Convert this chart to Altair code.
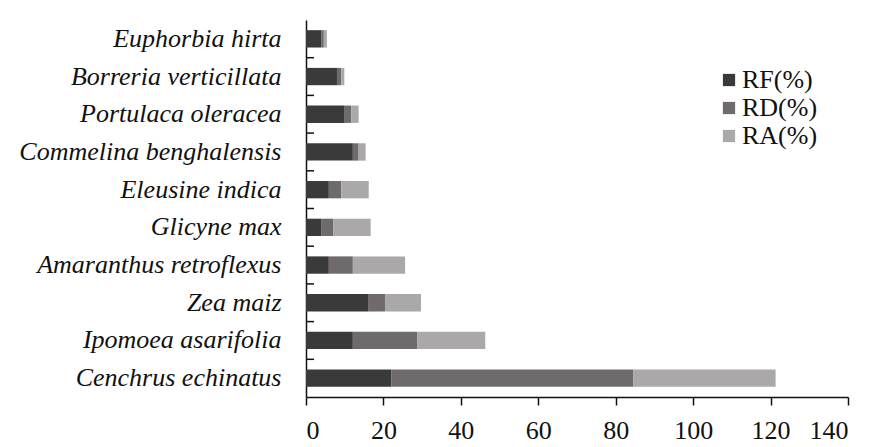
import altair as alt
import pandas as pd

species = ["Euphorbia hirta", "Borreria verticillata", "Portulaca oleracea",
           "Commelina benghalensis", "Eleusine indica", "Glicyne max",
           "Amaranthus retroflexus", "Zea maiz", "Ipomoea asarifolia",
           "Cenchrus echinatus"]
rf = [3.9, 8.0, 10.0, 12.1, 5.9, 3.9, 5.9, 16.2, 12.1, 22.0]
rd = [0.7, 1.1, 1.7, 1.5, 3.2, 3.1, 6.2, 4.2, 16.6, 62.5]
ra = [0.8, 0.8, 1.9, 1.8, 7.1, 9.7, 13.5, 9.3, 17.6, 36.8]
series = ["RF(%)", "RD(%)", "RA(%)"]
colors = ["#3b3a3a", "#6f6b6c", "#aaa8a9"]
x_ticks = [0, 20, 40, 60, 80, 100, 120, 140]

FONT = "Liberation Serif"

rows = []
for i, s in enumerate(species):
    for k, (name, vals) in enumerate(zip(series, [rf, rd, ra])):
        rows.append({"species": s, "series": name, "value": vals[i], "order": k})
df = pd.DataFrame(rows)
tick_df = pd.DataFrame({"species": species[:-1]})

W, H = 542, 377
step = H / len(species)

yscale = alt.Scale(domain=species, paddingInner=0.54, paddingOuter=0.27)

y_axis = alt.Axis(ticks=False, labelFontStyle="italic", labelFontSize=26,
                  labelFont=FONT, labelPadding=25, labelColor="#111",
                  domainColor="#111", domainWidth=1.5, labelLimit=400)

bars = alt.Chart(df).mark_bar().encode(
    y=alt.Y("species:N", scale=yscale, sort=species, title=None, axis=y_axis),
    x=alt.X("value:Q", stack="zero", title=None,
            scale=alt.Scale(domain=[0, 140], nice=False),
            axis=alt.Axis(values=x_ticks, tickSize=8, tickColor="#111", tickWidth=1.5,
                          labelFontSize=26, labelFont=FONT,
                          labelColor="#111", labelPadding=12, grid=False,
                          domainColor="#111", domainWidth=1.5)),
    color=alt.Color("series:N", scale=alt.Scale(domain=series, range=colors),
                    legend=alt.Legend(title=None, orient="none", legendX=410, legendY=47,
                                      labelFontSize=26, labelFont=FONT,
                                      labelColor="#111", symbolType="square",
                                      symbolSize=150, symbolStrokeWidth=0,
                                      rowPadding=2, labelOffset=0, padding=0)),
    order=alt.Order("order:Q"),
)

yticks = alt.Chart(tick_df).mark_rule(color="#111", strokeWidth=1.5, yOffset=step / 2).encode(
    y=alt.Y("species:N", scale=yscale, sort=species, title=None, axis=y_axis),
    x=alt.value(0),
    x2=alt.value(8),
)

chart = alt.layer(bars, yticks).properties(
    width=W, height=H,
    autosize=alt.AutoSizeParams(type="none"),
    padding={"left": 306, "top": 20, "right": 22, "bottom": 50},
).configure(background="white", font=FONT).configure_view(stroke=None)

chart.save("out.html", embed_options={"renderer": "svg", "actions": False})
